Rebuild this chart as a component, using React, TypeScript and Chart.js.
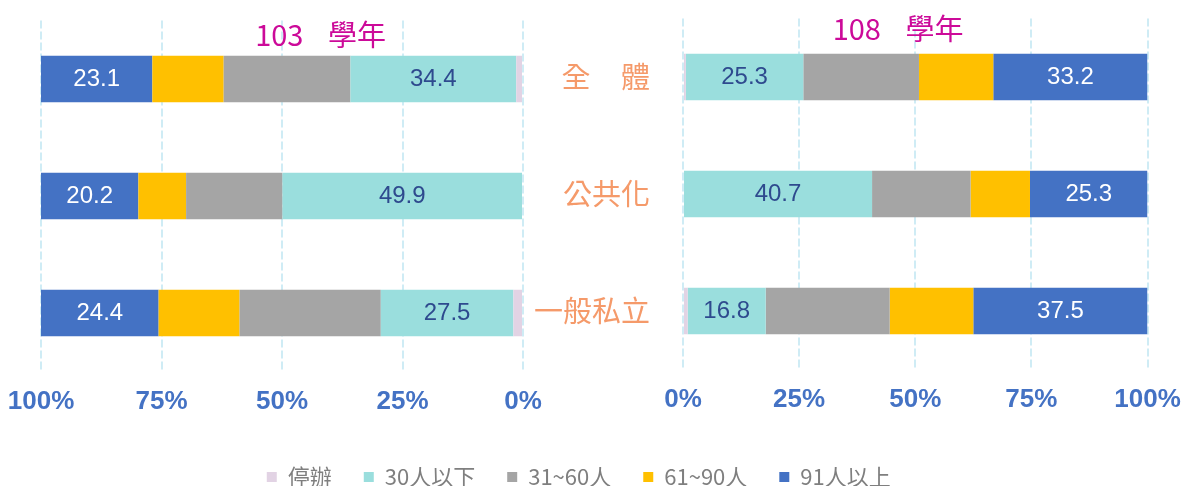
import React, { useEffect, useRef } from 'react';
import { Chart, registerables } from 'chart.js';

Chart.register(...registerables);

// ---------- data ----------
const categories = ['全 體', '公共化', '一般私立'];
const seriesNames = ['停辦', '30人以下', '31~60人', '61~90人', '91人以上'];
const panelTitles = ['103 學年', '108 學年'];
const xTickValues = [0, 25, 50, 75, 100];

// 103 學年 (%)
const closed103 = [1.4, 0, 2.0];
const under30_103 = [34.4, 49.9, 27.5];
const from31to60_103 = [26.3, 20.0, 29.3];
const from61to90_103 = [14.8, 9.9, 16.8];
const over91_103 = [23.1, 20.2, 24.4];

// 108 學年 (%)
const closed108 = [0.6, 0, 1.0];
const under30_108 = [25.3, 40.7, 16.8];
const from31to60_108 = [24.9, 21.2, 26.7];
const from61to90_108 = [16.0, 12.8, 18.0];
const over91_108 = [33.2, 25.3, 37.5];

// ---------- styles ----------
const seriesColors = ['#E2D3E4', '#9ADEDD', '#A5A5A5', '#FFC000', '#4472C4'];
const valueLabelColors: (string | null)[] = [null, '#2E4A8E', null, null, '#FFFFFF'];
const TITLE_COLOR = '#CC0A99';
const CAT_COLOR = '#F59A6A';
const TICK_COLOR = '#4472C4';
const GRID_COLOR = '#CFECF5';
const LEGEND_COLOR = '#7F7F7F';
const CJK = '"Noto Sans CJK TC", "Noto Sans CJK SC", sans-serif';
const SANS = '"Liberation Sans", Arial, sans-serif';

const valueLabelsPlugin = {
  id: 'valueLabels',
  afterDatasetsDraw(chart: any) {
    const ctx = chart.ctx;
    chart.data.datasets.forEach((ds: any, i: number) => {
      const color = valueLabelColors[i];
      if (!color) return;
      const meta = chart.getDatasetMeta(i);
      meta.data.forEach((el: any, j: number) => {
        const v = ds.data[j] as number;
        if (!v) return;
        const { x, y, base } = el.getProps(['x', 'y', 'base'], true);
        ctx.save();
        ctx.font = `24px ${SANS}`;
        ctx.fillStyle = color;
        ctx.textAlign = 'center';
        ctx.textBaseline = 'middle';
        ctx.fillText(v.toFixed(1), (x + base) / 2, y);
        ctx.restore();
      });
    });
  },
};

const panelTitlePlugin = {
  id: 'panelTitle',
  beforeDraw(chart: any, _a: any, opts: any) {
    (chart.ctx as any).wordSpacing = opts.labelWordSpacing || '0px';
  },
  afterDraw(chart: any, _a: any, opts: any) {
    const { ctx, chartArea } = chart;
    ctx.save();
    ctx.font = `29px ${CJK}`;
    ctx.fillStyle = TITLE_COLOR;
    (ctx as any).wordSpacing = '18px';
    ctx.textAlign = 'center';
    ctx.textBaseline = 'middle';
    ctx.fillText(opts.text, chartArea.left + chartArea.width * opts.alignFrac, chartArea.top + opts.offsetY);
    ctx.restore();
    (ctx as any).wordSpacing = '0px';
  },
};

function makeDatasets(values: number[][]) {
  return seriesNames.map((name, i) => ({
    label: name,
    data: values[i],
    backgroundColor: seriesColors[i],
    borderWidth: 0,
    barPercentage: 0.397,
    categoryPercentage: 1.0,
  }));
}

function xScale(reverse: boolean, axisHeight: number) {
  return {
    type: 'linear' as const,
    stacked: true,
    min: 0,
    max: 100,
    reverse,
    afterBuildTicks: (s: any) => {
      s.ticks = xTickValues.map((v) => ({ value: v }));
    },
    afterFit: (s: any) => {
      s.height = axisHeight;
      s.paddingLeft = 0;
      s.paddingRight = 0;
    },
    ticks: {
      callback: (v: any) => `${v}%`,
      color: TICK_COLOR,
      font: { family: SANS, size: 26, weight: 'bold' as const },
      padding: 15,
      maxRotation: 0,
      autoSkip: false,
    },
    grid: { color: GRID_COLOR, lineWidth: 2, drawTicks: false },
    border: { display: false, dash: [8, 3] },
  };
}

export default function App() {
  const leftRef = useRef<HTMLCanvasElement>(null);
  const rightRef = useRef<HTMLCanvasElement>(null);

  useEffect(() => {
    document.body.style.margin = '0';
    const left = new Chart(leftRef.current!, {
      type: 'bar',
      data: {
        labels: categories,
        datasets: makeDatasets([closed103, under30_103, from31to60_103, from61to90_103, over91_103]),
      },
      options: {
        indexAxis: 'y',
        responsive: false,
        animation: false,
        events: [],
        layout: { padding: { left: 41, right: 77, top: 20.5, bottom: 59 } },
        scales: {
          x: xScale(true, 67.5) as any,
          y: { type: 'category', stacked: true, display: false },
        },
        plugins: {
          legend: { display: false },
          tooltip: { enabled: false },
          title: { display: false },
          panelTitle: { text: panelTitles[0], alignFrac: 0.58, offsetY: 14 },
        } as any,
      },
      plugins: [valueLabelsPlugin, panelTitlePlugin],
    });

    const right = new Chart(rightRef.current!, {
      type: 'bar',
      data: {
        labels: categories,
        datasets: makeDatasets([closed108, under30_108, from31to60_108, from61to90_108, over91_108]),
      },
      options: {
        indexAxis: 'y',
        responsive: false,
        animation: false,
        events: [],
        layout: { padding: { left: 10, right: 39.5, top: 18.5, bottom: 0 } },
        scales: {
          x: xScale(false, 64.5) as any,
          y: {
            type: 'category',
            stacked: true,
            position: 'left',
            grid: { display: false },
            border: { display: false },
            afterFit: (s: any) => {
              s.width = 673;
              s.paddingTop = 0;
              s.paddingBottom = 0;
            },
            ticks: {
              color: CAT_COLOR,
              font: { family: CJK, size: 29 },
              padding: 25,
            },
          },
        },
        plugins: {
          legend: {
            display: true,
            position: 'bottom',
            labels: {
              boxWidth: 10,
              boxHeight: 10,
              padding: 32,
              color: LEGEND_COLOR,
              font: { family: CJK, size: 22 },
            },
          },
          tooltip: { enabled: false },
          title: { display: false },
          panelTitle: { text: panelTitles[1], alignFrac: 0.463, offsetY: 10.5, labelWordSpacing: '24px' },
        } as any,
      },
      plugins: [valueLabelsPlugin, panelTitlePlugin],
    });

    return () => {
      left.destroy();
      right.destroy();
    };
  }, []);

  return (
    <div
      style={{
        position: 'absolute',
        left: 0,
        top: 0,
        width: 1187,
        height: 486,
        overflow: 'hidden',
        background: '#FFFFFF',
      }}
    >
      <canvas ref={rightRef} width={1187} height={498} style={{ position: 'absolute', left: 0, top: 0 }} />
      <canvas ref={leftRef} width={600} height={498} style={{ position: 'absolute', left: 0, top: 0 }} />
    </div>
  );
}
